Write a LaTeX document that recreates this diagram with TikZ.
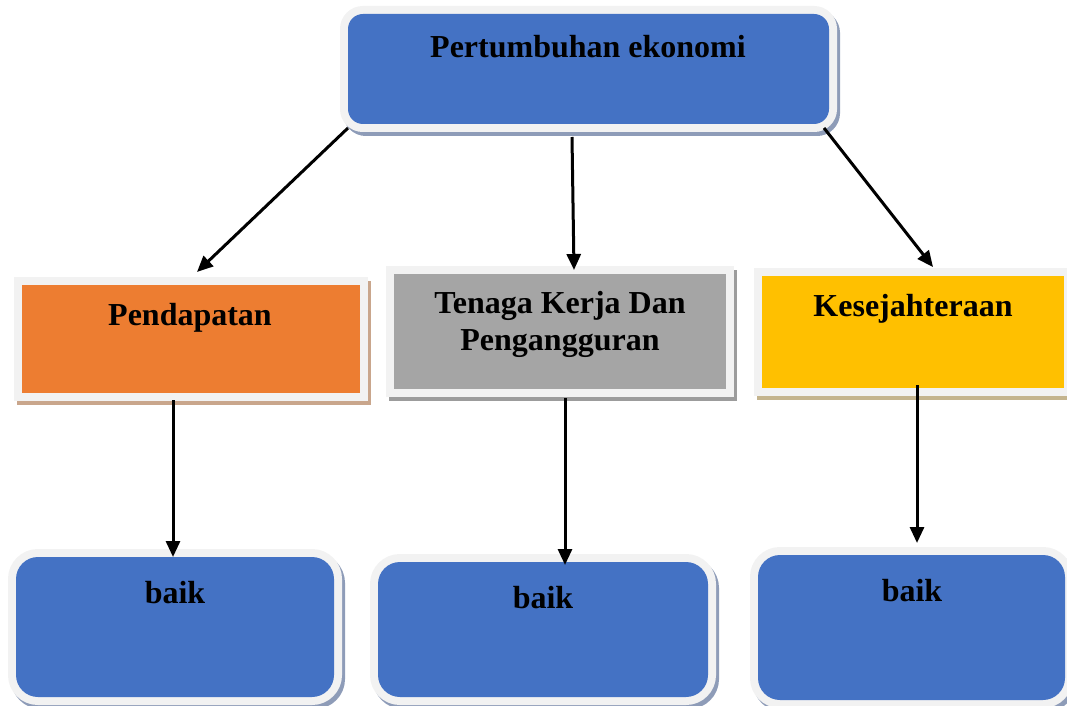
\documentclass[tikz,border=0pt]{standalone}
\usepackage{fontspec}
\setmainfont{Liberation Serif}
\usetikzlibrary{arrows.meta}

\definecolor{panelblue}{HTML}{4472C4}
\definecolor{panelorange}{HTML}{ED7D31}
\definecolor{panelgray}{HTML}{A5A5A5}
\definecolor{panelyellow}{HTML}{FFC000}
\definecolor{framec}{HTML}{F2F2F2}
\definecolor{shblue}{HTML}{8E9CB8}
\definecolor{shorange}{HTML}{C9A68C}
\definecolor{shgray}{HTML}{9C9C9C}
\definecolor{shyellow}{HTML}{C4B48E}

\newcommand\pxu{0.75pt}

\tikzset{
  % coloured panel inside a light frame, with a soft offset shadow
  panel/.style n args={2}{
    inner sep=0pt, outer sep=0pt, fill=framec, draw=framec, line width=12pt,
    preaction={fill=#2, draw=#2, line width=12pt,
               transform canvas={shift={(3,4)}}},
    postaction={fill=#1, draw=none}},
  caption/.style={anchor=base, align=center, inner sep=0pt,
    font=\fontsize{24pt}{27.75pt}\selectfont\bfseries},
  link/.style={-{Triangle[length=12pt,width=10.5pt]}, line width=2.25pt, black}
}

\begin{document}
\begin{tikzpicture}[x=0.75pt, y=-0.75pt]
\useasboundingbox (0,0) rectangle (1067,706);

% panels
\node[panel={panelblue}{shblue}, rounded corners=11.25pt,
      minimum width=481*\pxu, minimum height=110*\pxu] (top) at (588.5,69) {};
\node[panel={panelorange}{shorange},
      minimum width=338*\pxu, minimum height=108*\pxu] (pend) at (191,339) {};
\node[panel={panelgray}{shgray},
      minimum width=332*\pxu, minimum height=115*\pxu] (tenaga) at (560,331.5) {};
\node[panel={panelyellow}{shyellow},
      minimum width=302*\pxu, minimum height=112*\pxu] (kes) at (913,332) {};
\node[panel={panelblue}{shblue}, rounded corners=16.5pt,
      minimum width=318*\pxu, minimum height=140*\pxu] (b1) at (175,627) {};
\node[panel={panelblue}{shblue}, rounded corners=16.5pt,
      minimum width=330*\pxu, minimum height=135*\pxu] (b2) at (543,629.5) {};
\node[panel={panelblue}{shblue}, rounded corners=16.5pt,
      minimum width=307*\pxu, minimum height=145*\pxu] (b3) at (911.5,627.5) {};

% captions (base anchor of a two-line caption sits on its last line)
\node[caption] (ttop) at (588,58) {Pertumbuhan ekonomi};
\node[caption] (tpend) at (190,325) {Pendapatan};
\node[caption] (ttenaga) at (560,350) {Tenaga Kerja Dan\\Pengangguran};
\node[caption] (tkes) at (913,316) {Kesejahteraan};
\node[caption] (tb1) at (175,603) {baik};
\node[caption] (tb2) at (543,608) {baik};
\node[caption] (tb3) at (912,601) {baik};

% connectors
\draw[link] ([shift={(0,4)}]top.south west) -- ([shift={(6,-13)}]pend.north);
\draw[link] ([shift={(-16.5,13)}]top.south) -- ([shift={(14,-4)}]tenaga.north);
\draw[link] ([shift={(-5,4)}]top.south east) -- ([shift={(20,-9)}]kes.north);
\draw[link] ([shift={(-18,7)}]pend.south) -- ([shift={(-2,0)}]b1.north);
\draw[link] ([shift={(5,9)}]tenaga.south) -- ([shift={(22,3)}]b2.north);
\draw[link] ([shift={(4,-3)}]kes.south) -- ([shift={(5.5,-12)}]b3.north);
\end{tikzpicture}
\end{document}
